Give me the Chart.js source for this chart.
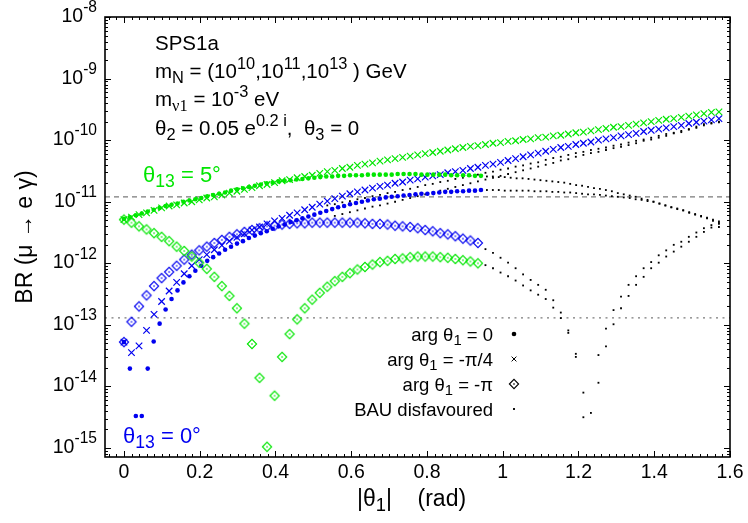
<!DOCTYPE html>
<html>
<head>
<meta charset="utf-8">
<script src="https://cdn.jsdelivr.net/npm/chart.js@4.4.1/dist/chart.umd.min.js"></script>
<style>
  html, body { margin: 0; background: #fff; }
  canvas { display: block; }
</style>
</head>
<body>
<canvas id="br" width="748" height="523"></canvas>
<script>
// |theta1| grid of the arg = -pi/4 and arg = -pi scans (rad)
const thetaCross = [0, 0.0199, 0.0398, 0.0597, 0.0795, 0.0994, 0.1193, 0.1392, 0.1591, 0.1790,
  0.1988, 0.2187, 0.2386, 0.2585, 0.2784, 0.2983, 0.3181, 0.3380, 0.3579, 0.3778,
  0.3977, 0.4176, 0.4374, 0.4573, 0.4772, 0.4971, 0.5170, 0.5369, 0.5567, 0.5766,
  0.5965, 0.6164, 0.6363, 0.6562, 0.6760, 0.6959, 0.7158, 0.7357, 0.7556, 0.7755,
  0.7954, 0.8152, 0.8351, 0.8550, 0.8749, 0.8948, 0.9147, 0.9345, 0.9544, 0.9743,
  0.9942, 1.0141, 1.0340, 1.0538, 1.0737, 1.0936, 1.1135, 1.1334, 1.1533, 1.1731,
  1.1930, 1.2129, 1.2328, 1.2527, 1.2726, 1.2925, 1.3123, 1.3322, 1.3521, 1.3720,
  1.3919, 1.4118, 1.4316, 1.4515, 1.4714, 1.4913, 1.5112, 1.5311, 1.5509, 1.5708];

// finer grid of the arg = 0 scan (rad)
const thetaDot = [0, 0.0157, 0.0314, 0.0471, 0.0628, 0.0785, 0.0942, 0.1100, 0.1257, 0.1414,
  0.1571, 0.1728, 0.1885, 0.2042, 0.2199, 0.2356, 0.2513, 0.2670, 0.2827, 0.2985,
  0.3142, 0.3299, 0.3456, 0.3613, 0.3770, 0.3927, 0.4084, 0.4241, 0.4398, 0.4555,
  0.4712, 0.4869, 0.5027, 0.5184, 0.5341, 0.5498, 0.5655, 0.5812, 0.5969, 0.6126,
  0.6283, 0.6440, 0.6597, 0.6754, 0.6912, 0.7069, 0.7226, 0.7383, 0.7540, 0.7697,
  0.7854, 0.8011, 0.8168, 0.8325, 0.8482, 0.8639, 0.8796, 0.8954, 0.9111, 0.9268,
  0.9425, 0.9582, 0.9739, 0.9896, 1.0053, 1.0210, 1.0367, 1.0524, 1.0681, 1.0838,
  1.0996, 1.1153, 1.1310, 1.1467, 1.1624, 1.1781, 1.1938, 1.2095, 1.2252, 1.2409,
  1.2566, 1.2723, 1.2881, 1.3038, 1.3195, 1.3352, 1.3509, 1.3666, 1.3823, 1.3980,
  1.4137, 1.4294, 1.4451, 1.4608, 1.4765, 1.4923, 1.5080, 1.5237, 1.5394, 1.5551,
  1.5708];

// log10 BR(mu -> e gamma). theta13 = 5 deg
const logGreenDot = [-11.28, -11.25, -11.22, -11.19, -11.16, -11.13, -11.10, -11.07, -11.05, -11.03,
  -11.00, -10.98, -10.96, -10.94, -10.91, -10.89, -10.87, -10.85, -10.82, -10.80,
  -10.78, -10.76, -10.74, -10.72, -10.70, -10.69, -10.67, -10.66, -10.65, -10.64,
  -10.63, -10.62, -10.61, -10.60, -10.59, -10.59, -10.58, -10.58, -10.57, -10.57,
  -10.57, -10.56, -10.56, -10.56, -10.56, -10.56, -10.55, -10.55, -10.55, -10.55,
  -10.56, -10.56, -10.56, -10.56, -10.56, -10.57, -10.57, -10.57, -10.57, -10.58,
  -10.58];
const logGreenCross = [-11.29, -11.25, -11.21, -11.18, -11.14, -11.10, -11.07, -11.05, -11.02, -11.00,
  -10.97, -10.94, -10.92, -10.89, -10.86, -10.83, -10.80, -10.77, -10.74, -10.72,
  -10.69, -10.66, -10.64, -10.61, -10.59, -10.57, -10.54, -10.51, -10.49, -10.46,
  -10.44, -10.41, -10.39, -10.37, -10.34, -10.32, -10.30, -10.28, -10.26, -10.24,
  -10.22, -10.20, -10.18, -10.16, -10.14, -10.12, -10.10, -10.09, -10.07, -10.05,
  -10.04, -10.02, -10.01, -9.99, -9.98, -9.96, -9.95, -9.93, -9.92, -9.90,
  -9.88, -9.87, -9.85, -9.83, -9.81, -9.79, -9.78, -9.76, -9.74, -9.72,
  -9.70, -9.68, -9.66, -9.65, -9.63, -9.61, -9.59, -9.57, -9.55, -9.54];
const logGreenDiamond = [-11.29, -11.34, -11.40, -11.45, -11.51, -11.57, -11.64, -11.73, -11.80, -11.89,
  -11.99, -12.09, -12.22, -12.37, -12.53, -12.73, -12.98, -13.31, -13.86, -14.98,
  -14.15, -13.52, -13.15, -12.91, -12.73, -12.59, -12.48, -12.38, -12.29, -12.22,
  -12.16, -12.10, -12.06, -12.02, -11.98, -11.96, -11.93, -11.92, -11.90, -11.89,
  -11.89, -11.89, -11.90, -11.91, -11.93, -11.95, -11.97, -12.00];

// theta13 = 0 deg
const logBlueDot = [-13.28, -13.71, -14.48, -14.48, -13.71, -13.27, -12.98, -12.75, -12.58, -12.44,
  -12.31, -12.21, -12.12, -12.04, -11.96, -11.90, -11.84, -11.78, -11.73, -11.68,
  -11.64, -11.59, -11.55, -11.51, -11.48, -11.44, -11.40, -11.37, -11.33, -11.30,
  -11.27, -11.24, -11.21, -11.18, -11.15, -11.12, -11.09, -11.07, -11.04, -11.02,
  -11.00, -10.98, -10.96, -10.95, -10.93, -10.92, -10.91, -10.90, -10.89, -10.88,
  -10.87, -10.87, -10.86, -10.85, -10.84, -10.84, -10.83, -10.83, -10.82, -10.82,
  -10.81];
const logBlueCross = [-13.28, -13.45, -13.34, -13.09, -12.83, -12.62, -12.45, -12.31, -12.17, -12.04,
  -11.94, -11.86, -11.78, -11.71, -11.64, -11.58, -11.52, -11.46, -11.41, -11.36,
  -11.31, -11.27, -11.22, -11.18, -11.13, -11.09, -11.04, -10.99, -10.95, -10.91,
  -10.87, -10.84, -10.81, -10.78, -10.75, -10.73, -10.70, -10.68, -10.65, -10.63,
  -10.60, -10.58, -10.56, -10.53, -10.51, -10.49, -10.46, -10.44, -10.41, -10.39,
  -10.36, -10.33, -10.30, -10.27, -10.24, -10.21, -10.18, -10.15, -10.12, -10.10,
  -10.07, -10.05, -10.03, -10.00, -9.98, -9.96, -9.93, -9.91, -9.89, -9.86,
  -9.84, -9.82, -9.80, -9.78, -9.76, -9.73, -9.71, -9.69, -9.67, -9.65];
const logBlueDiamond = [-13.28, -12.95, -12.70, -12.52, -12.37, -12.24, -12.14, -12.04, -11.94, -11.86,
  -11.79, -11.73, -11.67, -11.62, -11.57, -11.53, -11.49, -11.46, -11.43, -11.40,
  -11.39, -11.37, -11.36, -11.35, -11.35, -11.34, -11.34, -11.34, -11.34, -11.34,
  -11.34, -11.34, -11.35, -11.36, -11.36, -11.37, -11.39, -11.40, -11.41, -11.43,
  -11.46, -11.48, -11.51, -11.53, -11.56, -11.60, -11.63, -11.67];

// BAU disfavoured points (black). dot scans continue from thetaDot[61],
// diamond scans from thetaCross[48], the two upper rows from thetaCross[27] / [28]
const logBauGreenDot = [-10.59, -10.59, -10.60, -10.60, -10.61, -10.62, -10.62, -10.63, -10.64, -10.65,
  -10.66, -10.67, -10.68, -10.69, -10.71, -10.73, -10.74, -10.76, -10.78, -10.79,
  -10.81, -10.83, -10.86, -10.88, -10.90, -10.92, -10.95, -10.97, -11.00, -11.03,
  -11.06, -11.09, -11.11, -11.14, -11.17, -11.20, -11.23, -11.26, -11.29, -11.32];
const logBauBlueDot = [-10.81, -10.81, -10.81, -10.82, -10.82, -10.82, -10.82, -10.82, -10.83, -10.83,
  -10.83, -10.84, -10.84, -10.85, -10.85, -10.86, -10.87, -10.88, -10.88, -10.89,
  -10.90, -10.91, -10.92, -10.93, -10.94, -10.96, -10.97, -10.99, -11.00, -11.03,
  -11.06, -11.09, -11.12, -11.14, -11.18, -11.21, -11.24, -11.27, -11.31, -11.34];
const logBauBlueDiamond = [-11.77, -11.83, -11.91, -11.99, -12.08, -12.18, -12.27, -12.35, -12.43, -12.60,
  -12.80, -13.09, -13.47, -14.10, -14.43, -13.49, -13.06, -12.76, -12.54, -12.35,
  -12.21, -12.08, -11.98, -11.87, -11.79, -11.70, -11.65, -11.57, -11.50, -11.43,
  -11.38, -11.36];
const logBauGreenDiamond = [-12.03, -12.08, -12.15, -12.21, -12.28, -12.36, -12.44, -12.51, -12.58, -12.72,
  -12.89, -13.13, -13.52, -14.50, null, -13.94, -13.35, -12.99, -12.73, -12.53,
  -12.35, -12.22, -12.08, -11.99, -11.89, -11.81, -11.73, -11.65, -11.57, -11.49,
  -11.42, -11.41];
const logBauUpperA = [-11.06, -11.04, -11.01, -10.99, -10.96, -10.94, -10.91, -10.89, -10.86, -10.84,
  -10.81, -10.79, -10.76, -10.73, -10.71, -10.68, -10.66, -10.63, -10.61, -10.58,
  -10.56, -10.53, -10.51, -10.48, -10.46, -10.43, -10.41, -10.38, -10.36, -10.32,
  -10.29, -10.27, -10.24, -10.21, -10.19, -10.16, -10.14, -10.12, -10.09, -10.07,
  -10.04, -10.01, -9.99, -9.96, -9.93, -9.90, -9.88, -9.85, -9.82, -9.78,
  -9.74, -9.72, -9.70];
const logBauUpperB = [-11.23, -11.20, -11.17, -11.14, -11.11, -11.08, -11.06, -11.03, -11.00, -10.97,
  -10.94, -10.91, -10.88, -10.85, -10.82, -10.79, -10.76, -10.73, -10.70, -10.67,
  -10.64, -10.61, -10.58, -10.55, -10.52, -10.49, -10.46, -10.43, -10.40, -10.37,
  -10.33, -10.31, -10.27, -10.24, -10.21, -10.19, -10.16, -10.13, -10.11, -10.08,
  -10.05, -10.01, -9.99, -9.96, -9.93, -9.89, -9.87, -9.83, -9.80, -9.76,
  -9.73, -9.71];

// experimental bound and future sensitivity
const megaBound = 1.2e-11;
const megSensitivity = 1.3e-13;

const xMin = -0.05, xMax = 1.6;
const yMin = 7.15e-16, yMax = 1e-8;
const xTicks = [0, 0.2, 0.4, 0.6, 0.8, 1, 1.2, 1.4, 1.6];
const xTickLabels = ['0', '0.2', '0.4', '0.6', '0.8', '1', '1.2', '1.4', '1.6'];
const yTickExponents = [-15, -14, -13, -12, -11, -10, -9, -8];
const legendLabels = ['arg θ1 = 0', 'arg θ1 = -π/4', 'arg θ1 = -π', 'BAU disfavoured'];

const GREEN = '#00e600';
const BLUE = '#0000f0';
const FONT = "'Liberation Sans', Arial, Helvetica, sans-serif";

function points(thetas, logs, first) {
  const out = [];
  logs.forEach((e, k) => {
    if (e !== null) out.push({ x: thetas[first + k], y: Math.pow(10, e) });
  });
  return out;
}

// gnuplot style diamond with a dot in the middle
function diamondMark(color, r) {
  const c = document.createElement('canvas');
  const s = Math.ceil(2 * r + 4);
  c.width = c.height = s;
  const g = c.getContext('2d');
  const m = s / 2;
  g.strokeStyle = color;
  g.fillStyle = color;
  g.lineWidth = 1.1;
  g.beginPath();
  g.moveTo(m - r, m); g.lineTo(m, m - r); g.lineTo(m + r, m); g.lineTo(m, m + r);
  g.closePath();
  g.stroke();
  g.fillRect(m - 0.7, m - 0.7, 1.4, 1.4);
  return c;
}

function dots(data, color) {
  return { data, pointStyle: 'circle', pointRadius: 2.3, pointHoverRadius: 2.3,
    backgroundColor: color, borderColor: color, borderWidth: 0 };
}
function crosses(data, color) {
  return { data, pointStyle: 'crossRot', pointRadius: 4.6, pointHoverRadius: 4.6,
    backgroundColor: color, borderColor: color, borderWidth: 1.2 };
}
function diamonds(data, color) {
  return { data, pointStyle: diamondMark(color, 4.6), pointRadius: 5, pointHoverRadius: 5,
    backgroundColor: color, borderColor: color, borderWidth: 0 };
}
function bau(data) {
  return { data, pointStyle: 'rect', pointRadius: 1.3, pointHoverRadius: 1.3,
    backgroundColor: '#000', borderColor: '#000', borderWidth: 0 };
}
function hline(value, dash) {
  return { data: [{ x: xMin, y: value }, { x: xMax, y: value }], showLine: true,
    borderColor: '#7a7a7a', borderWidth: 1.3, borderDash: dash, pointRadius: 0, pointHoverRadius: 0 };
}

// first dataset ends up on top
const datasets = [
  crosses(points(thetaCross, logGreenCross, 0), GREEN),
  dots(points(thetaDot, logGreenDot, 0), GREEN),
  diamonds(points(thetaCross, logGreenDiamond, 0), GREEN),
  crosses(points(thetaCross, logBlueCross, 0), BLUE),
  dots(points(thetaDot, logBlueDot, 0), BLUE),
  diamonds(points(thetaCross, logBlueDiamond, 0), BLUE),
  bau(points(thetaDot, logBauGreenDot, 61)),
  bau(points(thetaDot, logBauBlueDot, 61)),
  bau(points(thetaCross, logBauGreenDiamond, 48)),
  bau(points(thetaCross, logBauBlueDiamond, 48)),
  bau(points(thetaCross, logBauUpperA, 27)),
  bau(points(thetaCross, logBauUpperB, 28)),
  hline(megaBound, [5, 4]),
  hline(megSensitivity, [2, 4.5])
];

// text with sub/superscripts; parts = [text, 'sub'|'sup', family]
function rich(ctx, parts, x, y, size, opts) {
  const o = Object.assign({ align: 'left', sub: 0.22, sup: 0.42, scale: 0.8, color: '#000' }, opts);
  const fontOf = (kind, fam) => `${kind ? size * o.scale : size}px ${fam || FONT}`;
  let w = 0;
  for (const [t, kind, fam] of parts) {
    ctx.font = fontOf(kind, fam);
    w += ctx.measureText(t).width;
  }
  let cx = o.align === 'right' ? x - w : x;
  ctx.fillStyle = o.color;
  ctx.textAlign = 'left';
  ctx.textBaseline = 'alphabetic';
  for (const [t, kind, fam] of parts) {
    ctx.font = fontOf(kind, fam);
    const dy = kind === 'sub' ? size * o.sub : kind === 'sup' ? -size * o.sup : 0;
    ctx.fillText(t, cx, y + dy);
    cx += ctx.measureText(t).width;
  }
}

const frame = {
  id: 'frame',
  afterDatasetsDraw(chart) {
    const { ctx, chartArea: a, scales: { x, y } } = chart;
    ctx.save();
    ctx.strokeStyle = '#000';
    ctx.lineWidth = 1;
    ctx.beginPath();
    // x ticks every 0.02, major every 0.2, on bottom and top
    for (let k = -2; k <= 80; k++) {
      const v = k / 50;
      if (v < xMin || v > xMax) continue;
      const px = Math.round(x.getPixelForValue(v)) + 0.5;
      const len = k % 10 === 0 ? 6 : 3;
      ctx.moveTo(px, a.bottom); ctx.lineTo(px, a.bottom - len);
      ctx.moveTo(px, a.top); ctx.lineTo(px, a.top + len);
    }
    // log ticks on left and right
    for (let e = -16; e <= -8; e++) {
      for (let m = 1; m <= 9; m++) {
        const v = m * Math.pow(10, e);
        if (v < yMin || v > yMax * 1.0001) continue;
        const py = Math.round(y.getPixelForValue(v)) + 0.5;
        const len = m === 1 ? 6 : 3;
        ctx.moveTo(a.left, py); ctx.lineTo(a.left + len, py);
        ctx.moveTo(a.right, py); ctx.lineTo(a.right - len, py);
      }
    }
    ctx.stroke();
    ctx.lineWidth = 1.6;
    ctx.strokeRect(a.left, a.top, a.right - a.left, a.bottom - a.top);
    ctx.restore();
  }
};

const labels = {
  id: 'labels',
  afterDraw(chart) {
    const { ctx, scales: { y } } = chart;
    ctx.save();

    // 10^n tick labels
    yTickExponents.forEach(e => {
      const py = y.getPixelForValue(Math.pow(10, e));
      rich(ctx, [['10'], [String(e), 'sup']], 97, py + 5, 19.5, { align: 'right', sup: 0.5 });
    });

    // x axis title
    rich(ctx, [['|θ'], ['1', 'sub'], ['|    (rad)']], 357, 506, 23);

    // run parameters
    const s = 20.5;
    rich(ctx, [['SPS1a']], 155, 50, s);
    rich(ctx, [['m'], ['N', 'sub'], [' = (10'], ['10', 'sup'], [',10'], ['11', 'sup'], [',10'], ['13', 'sup'], [' ) GeV']], 155, 78, s);
    rich(ctx, [['m'], ['ν1', 'sub', "'Liberation Serif', serif"], [' = 10'], ['-3', 'sup'], [' eV']], 155, 106, s);
    rich(ctx, [['θ'], ['2', 'sub'], [' = 0.05 e'], ['0.2 i', 'sup'], [',  θ'], ['3', 'sub'], [' = 0']], 155, 135, s);

    rich(ctx, [['θ'], ['13', 'sub'], [' = 5°']], 143, 182, 22, { color: GREEN });
    rich(ctx, [['θ'], ['13', 'sub'], [' = 0°']], 123, 443, 22, { color: BLUE });

    // key
    const rowsY = [334, 359, 384, 409];
    const keyParts = legendLabels.map(t => {
      const i = t.indexOf('θ1');
      return i < 0 ? [[t]] : [[t.slice(0, i + 1)], ['1', 'sub'], [t.slice(i + 2)]];
    });
    const marks = [
      { pointStyle: 'circle', radius: 2.3, borderWidth: 0, rotation: 0 },
      { pointStyle: 'crossRot', radius: 3.4, borderWidth: 1, rotation: 0 },
      { pointStyle: diamondMark('#000', 4.6), radius: 5, borderWidth: 0, rotation: 0 },
      { pointStyle: 'rect', radius: 1.3, borderWidth: 0, rotation: 0 }
    ];
    keyParts.forEach((parts, i) => {
      rich(ctx, parts, 493, rowsY[i] + 6.5, 18.5, { align: 'right' });
      ctx.fillStyle = '#000';
      ctx.strokeStyle = '#000';
      ctx.lineWidth = marks[i].borderWidth;
      Chart.helpers.drawPoint(ctx, marks[i], 514, rowsY[i]);
    });

    ctx.restore();
  }
};

Chart.defaults.font.family = FONT;
Chart.defaults.color = '#000';

new Chart(document.getElementById('br'), {
  type: 'scatter',
  data: { datasets },
  options: {
    responsive: false,
    animation: false,
    devicePixelRatio: 1,
    layout: { padding: { top: 17, right: 18, bottom: 0, left: 0 } },
    plugins: { legend: { display: false }, tooltip: { enabled: false } },
    scales: {
      x: {
        type: 'linear', min: xMin, max: xMax,
        grid: { display: false, drawTicks: false },
        border: { display: false },
        afterBuildTicks: s => { s.ticks = xTicks.map(v => ({ value: v })); },
        afterFit: s => { s.height = 66; },
        ticks: { font: { size: 19.5 }, color: '#000', padding: 4, maxRotation: 0, autoSkip: false,
          callback: (v, i) => xTickLabels[i] }
      },
      y: {
        type: 'logarithmic', min: yMin, max: yMax,
        grid: { display: false, drawTicks: false },
        border: { display: false },
        ticks: { display: false },
        afterFit: s => { s.width = 105; },
        title: { display: true, text: 'BR (μ → e γ)', color: '#000',
          font: { size: 23, family: "'Liberation Sans', 'DejaVu Sans', sans-serif" },
          padding: { top: 12, bottom: 0 } }
      }
    }
  },
  plugins: [frame, labels]
});
</script>
</body>
</html>
